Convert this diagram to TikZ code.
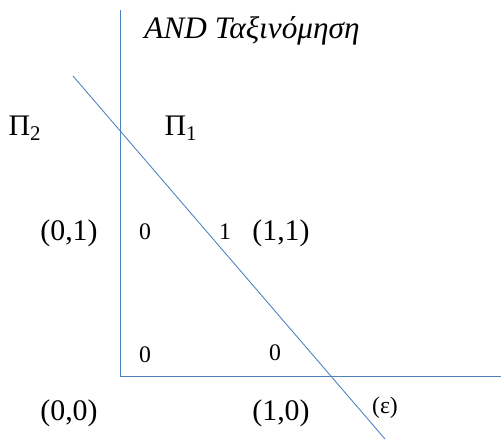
\documentclass[tikz,border=0pt]{standalone}
\usepackage{fontspec}
\setmainfont{Liberation Serif}
\usetikzlibrary{positioning}

\definecolor{axisblue}{RGB}{79,129,189}

\begin{document}
\begin{tikzpicture}[
    x=0.02cm, y=-0.02cm,
    axis/.style={draw=axisblue, line width=0.5pt},
    point/.style={inner sep=0pt, font=\fontsize{17}{20}\selectfont},
    value/.style={inner sep=0pt, font=\fontsize{13.5}{16}\selectfont},
    plane/.style={inner sep=0pt, font=\fontsize{17}{20}\selectfont},
]
\useasboundingbox (0,0) rectangle (501,441);

% Title
\node[inner sep=0pt, font=\fontsize{17.8}{20}\selectfont\itshape] (title) at (252,31) {AND Ταξινόμηση};

% Axes
\coordinate (origin) at (120,376);
\coordinate (ytop) at (120,10);
\coordinate (xend) at (501,376);
\draw[axis] (ytop) -- (origin) -- (xend);

% Separating line
\coordinate (lstart) at (73,76);
\coordinate (lend) at (385,439);
\draw[axis] (lstart) -- (lend);

% Planes
\node[plane] (p2) at (25,128) {Π\textsubscript{2}};
\node[plane] (p1) at (181,128) {Π\textsubscript{1}};

% Points
\node[point] (p01) at (69,233) {(0,1)};
\node[point] (p11) at (281,233) {(1,1)};
\node[point] (p00) at (69,413) {(0,0)};
\node[point] (p10) at (281,413) {(1,0)};

% Outputs
\node[value] (v01) at (145,232) {0};
\node[value] (v11) at (225,232) {1};
\node[value] (v00) at (145,355) {0};
\node[value] (v10) at (275,353) {0};

% Line label
\node[value] (eps) at (385,408) {(ε)};

\end{tikzpicture}
\end{document}
